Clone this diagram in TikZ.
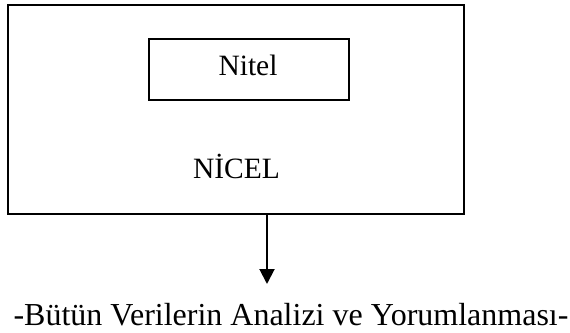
\documentclass[tikz,border=0pt]{standalone}
\usepackage{fontspec}
\setmainfont{Liberation Serif}
\usetikzlibrary{arrows.meta}
\begin{document}
\begin{tikzpicture}[x=1pt,y=-1pt,
  box/.style={draw=black,line width=2pt},
  lbl/.style={inner sep=0pt,anchor=base,font=\fontsize{29.5}{34}\selectfont},
  conn/.style={line width=2pt,-{Triangle[width=15pt,length=15pt]}}]
\useasboundingbox (0,0) rectangle (570,332);
\node[box,minimum width=456pt,minimum height=209pt,inner sep=0pt] (outer) at (236,109.5) {};
\node[box,minimum width=200pt,minimum height=61pt,inner sep=0pt] (inner) at (249,69.5) {};
\node[lbl] (nitel) at (248,75) {Nitel};
\node[lbl] (nicel) at (236.5,178) {NİCEL};
\node[lbl,font=\fontsize{32}{38}\selectfont] (result) at (291,325) {-Bütün Verilerin Analizi ve Yorumlanması-};
\coordinate (top) at (267,214);
\coordinate (tip) at (267,284);
\draw[conn] (top) -- (tip);
\end{tikzpicture}
\end{document}
